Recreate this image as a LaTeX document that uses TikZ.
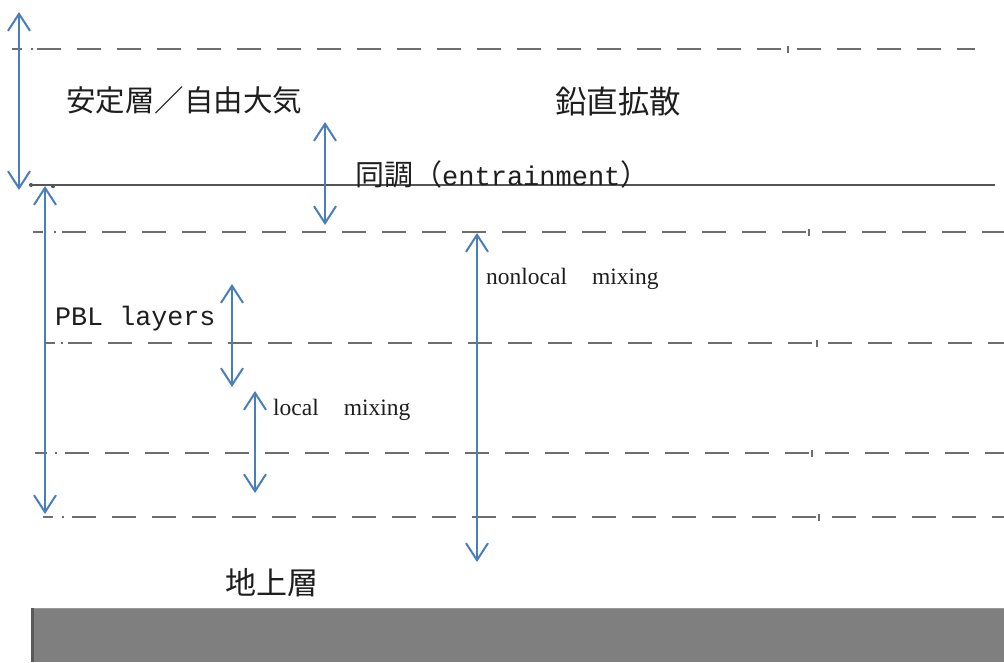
\documentclass[tikz,border=0pt]{standalone}
\usepackage{fontspec}
\setmainfont{Liberation Serif}
\newfontfamily\cjk{Noto Sans CJK JP}
\newfontfamily\mono{Liberation Mono}
\usetikzlibrary{arrows.meta}
\definecolor{linegray}{HTML}{6E6E6E}
\definecolor{solidgray}{HTML}{555555}
\definecolor{arrowblue}{HTML}{4A7EBB}
\definecolor{groundgray}{HTML}{7F7F7F}
\definecolor{txt}{HTML}{1E1E1E}
\tikzset{
  dline/.style={draw=linegray, line width=2.3pt, dash pattern=on 24pt off 16pt},
  seg/.style={draw=linegray, line width=2.3pt},
  tickmark/.style={draw=linegray, line width=2.6pt},
  flux/.style={draw=arrowblue, line width=2pt,
    {Straight Barb[length=17pt,width=22pt]}-{Straight Barb[length=17pt,width=22pt]}},
  lbl/.style={inner sep=0pt, anchor=west, text=txt},
  cjklbl/.style={lbl, font=\cjk\fontsize{29.5}{34}\selectfont},
  serlbl/.style={lbl, font=\fontsize{23.5}{27}\selectfont},
}
\begin{document}
\begin{tikzpicture}[x=1pt,y=-1pt]
\useasboundingbox (0,0) rectangle (1004,662);
% dashed layer boundaries: y / small dash start / end / dot / dash start / end / tick
\foreach \y/\sa/\sb/\dx/\ds/\e/\tx in {49/12/22/32/37/975/788, 232/33/43/55/62/1004/809, 343/45/55/62/68/1004/817, 453/35/47/56/65/1004/812, 517/43/53/63/72/1004/819}{
  \draw[seg] (\sa,\y) -- (\sb,\y);
  \draw[seg] (\dx-1.2,\y) -- (\dx+1.2,\y);
  \draw[dline] (\ds,\y) -- (\e,\y);
  \draw[tickmark] (\tx,\y-3.5) -- (\tx,\y+3.5);
}
% PBL top (solid)
\draw[draw=solidgray, line width=2pt] (30,185) -- (995,185);
\fill[solidgray] (31,185) circle (2pt) (53,186) circle (2.2pt);
% ground
\fill[groundgray] (31,608) rectangle (1004,662);
\draw[draw=black!40, line width=0.8pt] (31,608.4) -- (1004,608.4);
\draw[draw=black!65, line width=3pt] (32.5,608) -- (32.5,662);
% arrow end points
\coordinate (a1t) at (19,12);   \coordinate (a1b) at (19,190);
\coordinate (a2t) at (45,186);  \coordinate (a2b) at (45,514);
\coordinate (a3t) at (325,122); \coordinate (a3b) at (325,225);
\coordinate (a4t) at (232,284); \coordinate (a4b) at (232,387);
\coordinate (a5t) at (255,391); \coordinate (a5b) at (255,493);
\coordinate (a6t) at (477,233); \coordinate (a6b) at (477,562);
\draw[flux] (a1t) -- (a1b);
\draw[flux] (a2t) -- (a2b);
\draw[flux] (a3t) -- (a3b);
\draw[flux] (a4t) -- (a4b);
\draw[flux] (a5t) -- (a5b);
\draw[flux] (a6t) -- (a6b);
% labels
\node[cjklbl] (free) at (66,100) {安定層／自由大気};
\node[cjklbl, font=\cjk\fontsize{31.5}{36}\selectfont] (vdiff) at (555,102) {鉛直拡散};
\node[lbl] (entr) at (355,174) {{\cjk\fontsize{29}{33}\selectfont 同調（}{\mono\fontsize{27}{30}\selectfont entrainment}{\cjk\fontsize{29}{33}\selectfont ）}};
\node[lbl, font=\mono\fontsize{26.7}{30}\selectfont] (pbl) at (55,319) {PBL layers};
\node[serlbl] (nonloc) at (486,279) {nonlocal\hspace{25pt}mixing};
\node[serlbl] (loc) at (273,410) {local\hspace{25pt}mixing};
\node[cjklbl, font=\cjk\fontsize{31}{36}\selectfont] (sfc) at (225,583) {地上層};
\end{tikzpicture}
\end{document}
